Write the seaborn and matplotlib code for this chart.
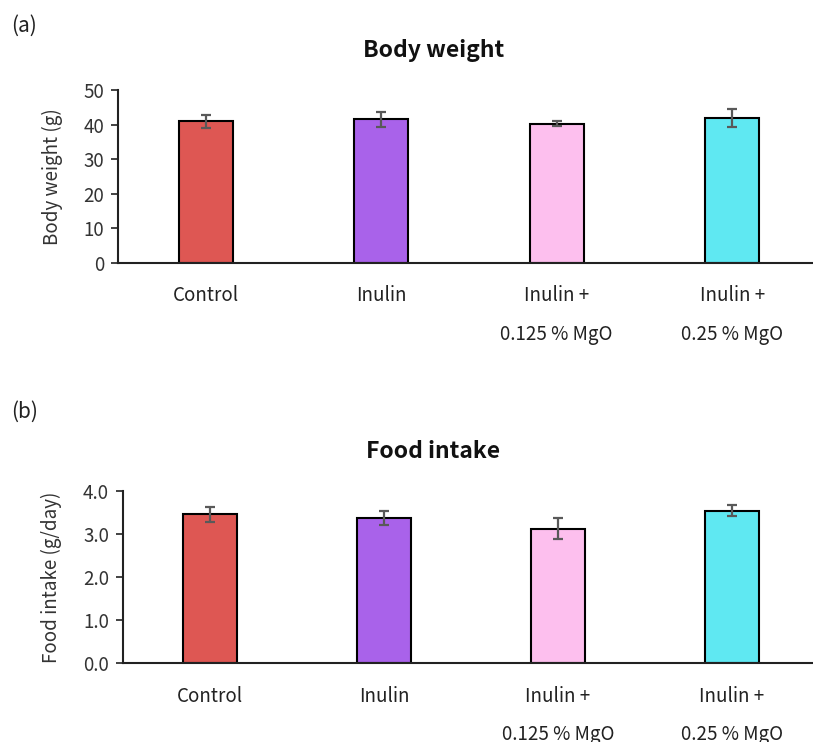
import matplotlib
matplotlib.use("Agg")
import matplotlib.pyplot as plt
import seaborn as sns
import numpy as np

groups = ["Control", "Inulin", "Inulin +\n0.125 % MgO", "Inulin +\n0.25 % MgO"]
colors = ["#DE5753", "#A962EA", "#FDBFEE", "#5FE8F2"]

body_weight = [41.0, 41.5, 40.3, 41.9]
body_weight_err = [1.9, 2.1, 0.6, 2.6]

food_intake = [3.45, 3.37, 3.12, 3.54]
food_intake_err = [0.17, 0.17, 0.25, 0.13]

sns.set_theme(style="white")
plt.rcParams["font.family"] = ["Noto Sans CJK JP", "DejaVu Sans"]
plt.rcParams["text.color"] = "#222222"

W, H = 813, 742
fig = plt.figure(figsize=(W / 100, H / 100), dpi=100)


def px_axes(left, top, right, bottom):
    return fig.add_axes([left / W, 1 - bottom / H, (right - left) / W, (bottom - top) / H])


def draw_panel(ax, values, errors, ymax, ystep, ylabel, fmt):
    sns.barplot(x=groups, y=values, hue=groups, palette=colors, saturation=1, width=0.31,
                edgecolor="black", linewidth=1.5, legend=False, ax=ax, errorbar=None)
    ax.errorbar(np.arange(len(groups)), values, yerr=errors, fmt="none",
                ecolor="#595959", elinewidth=1.6, capsize=3.5, capthick=1.6, zorder=5)
    ax.set_xlim(-0.5, len(groups) - 0.5)
    ax.set_ylim(0, ymax)
    ticks = np.arange(0, ymax + ystep / 2, ystep)
    ax.set_yticks(ticks)
    ax.set_yticklabels([fmt.format(v) for v in ticks])
    sns.despine(ax=ax)
    for s in ("left", "bottom"):
        ax.spines[s].set_color("#222222")
        ax.spines[s].set_linewidth(1.5)
    ax.tick_params(axis="y", which="both", left=True, length=5, width=1.2, color="#222222",
                   labelsize=13.5, labelcolor="#333333", pad=5)
    ax.tick_params(axis="x", bottom=False, labelsize=13.5, labelcolor="#222222", pad=10)
    plt.setp(ax.get_xticklabels(), linespacing=2.1)
    ax.set_ylabel(ylabel, fontsize=13.5, color="#333333", labelpad=15)
    ax.set_xlabel("")


ax_a = px_axes(118, 90, 820, 263)
draw_panel(ax_a, body_weight, body_weight_err, 50, 10, "Body weight (g)", "{:.0f}")

ax_b = px_axes(123, 490.7, 819, 663.3)
draw_panel(ax_b, food_intake, food_intake_err, 4.0, 1.0, "Food intake (g/day)", "{:.1f}")

fig.text(434 / W, 1 - 50 / H, "Body weight", ha="center", va="center",
         fontsize=16.5, fontweight="bold", color="#111111")
fig.text(433 / W, 1 - 451 / H, "Food intake", ha="center", va="center",
         fontsize=16.5, fontweight="bold", color="#111111")
fig.text(11 / W, 1 - 26 / H, "(a)", ha="left", va="center", fontsize=15, color="#222222")
fig.text(11 / W, 1 - 412 / H, "(b)", ha="left", va="center", fontsize=15, color="#222222")

fig.savefig("out.png", dpi=100)
